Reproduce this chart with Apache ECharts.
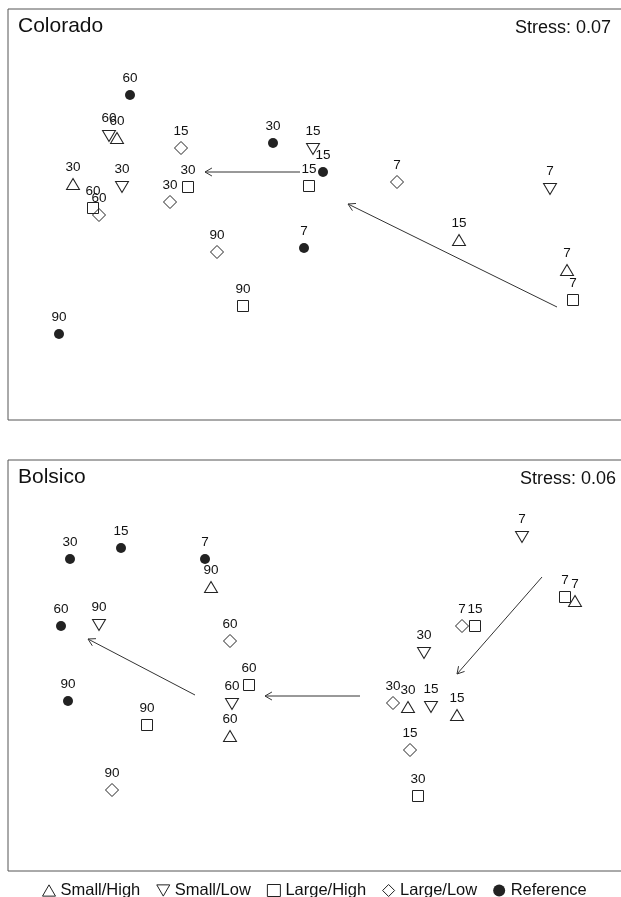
<!DOCTYPE html>
<html><head><meta charset="utf-8">
<script src="https://cdn.jsdelivr.net/npm/echarts@6/dist/echarts.min.js"></script>
<style>html,body{margin:0;padding:0;background:#fff}#c{width:621px;height:897px}</style>
</head><body><div id="c"></div>
<script>
// Group names (legend)
const groups = ['Small/High', 'Small/Low', 'Large/High', 'Large/Low', 'Reference'];
const panelTitles = ['Colorado', 'Bolsico'];
const stressLabels = ['Stress: 0.07', 'Stress: 0.06'];

// Colorado NMDS coordinates: [dim1, dim2, day]
const coloradoSmallHigh = [[-1.98, 0.77, '60'], [-2.42, 0.31, '30'], [1.44, -0.25, '15'], [2.52, -0.55, '7']];
const coloradoSmallLow  = [[-2.06, 0.79, '60'], [-1.93, 0.28, '30'], [-0.02, 0.66, '15'], [2.35, 0.26, '7']];
const coloradoLargeHigh = [[-2.22, 0.07, '60'], [-1.27, 0.28, '30'], [-0.06, 0.29, '15'], [-0.72, -0.91, '90'], [2.58, -0.85, '7']];
const coloradoLargeLow  = [[-2.16, 0.00, '60'], [-1.45, 0.13, '30'], [-1.34, 0.67, '15'], [-0.98, -0.37, '90'], [0.82, 0.33, '7']];
const coloradoReference = [[-1.85, 1.20, '60'], [-0.42, 0.72, '30'], [0.08, 0.43, '15'], [-0.11, -0.33, '7'], [-2.56, -1.19, '90']];
// arrows: [x1, y1, x2, y2]
const coloradoArrows = [[-0.15, 0.43, -1.10, 0.43], [2.42, -0.92, 0.33, 0.11]];

// Bolsico NMDS coordinates: [dim1, dim2, day]
const bolsicoSmallHigh = [[-1.04, 0.78, '90'], [-0.85, -0.71, '60'], [0.93, -0.42, '30'], [1.42, -0.50, '15'], [2.60, 0.64, '7']];
const bolsicoSmallLow  = [[-2.16, 0.40, '90'], [-0.83, -0.39, '60'], [1.09, 0.12, '30'], [1.16, -0.42, '15'], [2.07, 1.28, '7']];
const bolsicoLargeHigh = [[-1.68, -0.60, '90'], [-0.66, -0.20, '60'], [1.03, -1.31, '30'], [1.60, 0.39, '15'], [2.50, 0.68, '7']];
const bolsicoLargeLow  = [[-2.03, -1.25, '90'], [-0.85, 0.24, '60'], [0.78, -0.38, '30'], [0.95, -0.85, '15'], [1.47, 0.39, '7']];
const bolsicoReference = [[-2.45, 1.06, '30'], [-1.94, 1.17, '15'], [-1.10, 1.06, '7'], [-2.54, 0.39, '60'], [-2.47, -0.36, '90']];
const bolsicoArrows = [[2.27, 0.88, 1.42, -0.09], [0.45, -0.31, -0.50, -0.31], [-1.20, -0.30, -2.27, 0.26]];

const FONT = "'Liberation Sans', Arial, Helvetica, sans-serif";
const INK = '#222';

const symbolDefs = [
  { symbol: 'path://M5,0L10,8.66L0,8.66Z', size: [13, 11], dist: 3.75 },
  { symbol: 'path://M0,0L10,0L5,8.66Z', size: [13, 11], dist: 4.75 },
  { symbol: 'rect', size: [11, 11], dist: 3.75 },
  { symbol: 'path://M5,0L10,5L5,10L0,5Z', size: [13, 13], dist: 2.75 },
  { symbol: 'circle', size: 10, dist: 4.25 }
];

function scatterSeries(name, idx, data, axisIdx) {
  const d = symbolDefs[idx];
  const filled = idx === 4;
  return {
    type: 'scatter', name: name, xAxisIndex: axisIdx, yAxisIndex: axisIdx,
    data: data, symbol: d.symbol, symbolSize: d.size,
    itemStyle: { color: filled ? INK : 'transparent', borderColor: INK, borderWidth: filled ? 0 : 1, opacity: 1 },
    label: { show: true, position: 'top', distance: d.dist, formatter: p => p.value[2],
             color: '#111', fontSize: 13.5, fontFamily: FONT },
    emphasis: { disabled: true }, silent: true, z: 3
  };
}

function renderArrow(params, api) {
  const p1 = api.coord([api.value(0), api.value(1)]);
  const p2 = api.coord([api.value(2), api.value(3)]);
  const ang = Math.atan2(p2[1] - p1[1], p2[0] - p1[0]);
  const L = 8, a = Math.PI / 6;
  const h1 = [p2[0] - L * Math.cos(ang - a), p2[1] - L * Math.sin(ang - a)];
  const h2 = [p2[0] - L * Math.cos(ang + a), p2[1] - L * Math.sin(ang + a)];
  return { type: 'group', children: [
    { type: 'line', shape: { x1: p1[0], y1: p1[1], x2: p2[0], y2: p2[1] }, style: { stroke: '#333', lineWidth: 1 } },
    { type: 'polyline', shape: { points: [h1, p2, h2] }, style: { stroke: '#333', fill: null, lineWidth: 1 } }
  ]};
}

function arrowSeries(data, axisIdx) {
  return {
    type: 'custom', xAxisIndex: axisIdx, yAxisIndex: axisIdx, data: data,
    dimensions: ['x1', 'y1', 'x2', 'y2'], encode: { x: [0, 2], y: [1, 3] },
    renderItem: renderArrow, silent: true, z: 2
  };
}

const panels = [
  [coloradoSmallHigh, coloradoSmallLow, coloradoLargeHigh, coloradoLargeLow, coloradoReference],
  [bolsicoSmallHigh, bolsicoSmallLow, bolsicoLargeHigh, bolsicoLargeLow, bolsicoReference]
];
const arrows = [coloradoArrows, bolsicoArrows];

const series = [];
panels.forEach((sets, pi) => {
  sets.forEach((data, gi) => series.push(scatterSeries(groups[gi], gi, data, pi)));
  series.push(arrowSeries(arrows[pi], pi));
});

const titleStyle = (size) => ({ fontSize: size, fontWeight: 'normal', color: '#111', fontFamily: FONT });

const option = {
  animation: false,
  backgroundColor: '#fff',
  title: [
    { text: panelTitles[0], left: 13, top: 11, textStyle: titleStyle(21) },
    { text: stressLabels[0], right: 5, top: 14, textStyle: titleStyle(18) },
    { text: panelTitles[1], left: 13, top: 462, textStyle: titleStyle(21) },
    { text: stressLabels[1], right: 0, top: 465, textStyle: titleStyle(18) }
  ],
  grid: [
    { left: 8, top: 9, width: 625, height: 411, outerBoundsMode: 'none', containLabel: false,
      show: true, borderColor: '#555', borderWidth: 1, backgroundColor: 'transparent' },
    { left: 8, top: 460, width: 625, height: 411, outerBoundsMode: 'none', containLabel: false,
      show: true, borderColor: '#555', borderWidth: 1, backgroundColor: 'transparent' }
  ],
  xAxis: [
    { type: 'value', gridIndex: 0, min: -3.07, max: 3.18, show: false },
    { type: 'value', gridIndex: 1, min: -3.07, max: 3.18, show: false }
  ],
  yAxis: [
    { type: 'value', gridIndex: 0, min: -2.05, max: 2.06, show: false },
    { type: 'value', gridIndex: 1, min: -2.06, max: 2.05, show: false }
  ],
  legend: {
    left: 37, top: 877, itemGap: 16, itemWidth: 13, itemHeight: 12,
    selectedMode: false,
    textStyle: { fontSize: 16.5, color: '#111', fontFamily: FONT },
    data: groups.map((g, i) => ({
      name: g, icon: symbolDefs[i].symbol,
      itemStyle: i === 4 ? { color: INK, borderWidth: 0 } : { color: 'transparent', borderColor: INK, borderWidth: 1 }
    }))
  },
  series: series
};

const chart = echarts.init(document.getElementById('c'), null, { renderer: 'canvas' });
chart.setOption(option);
</script>
</body></html>
